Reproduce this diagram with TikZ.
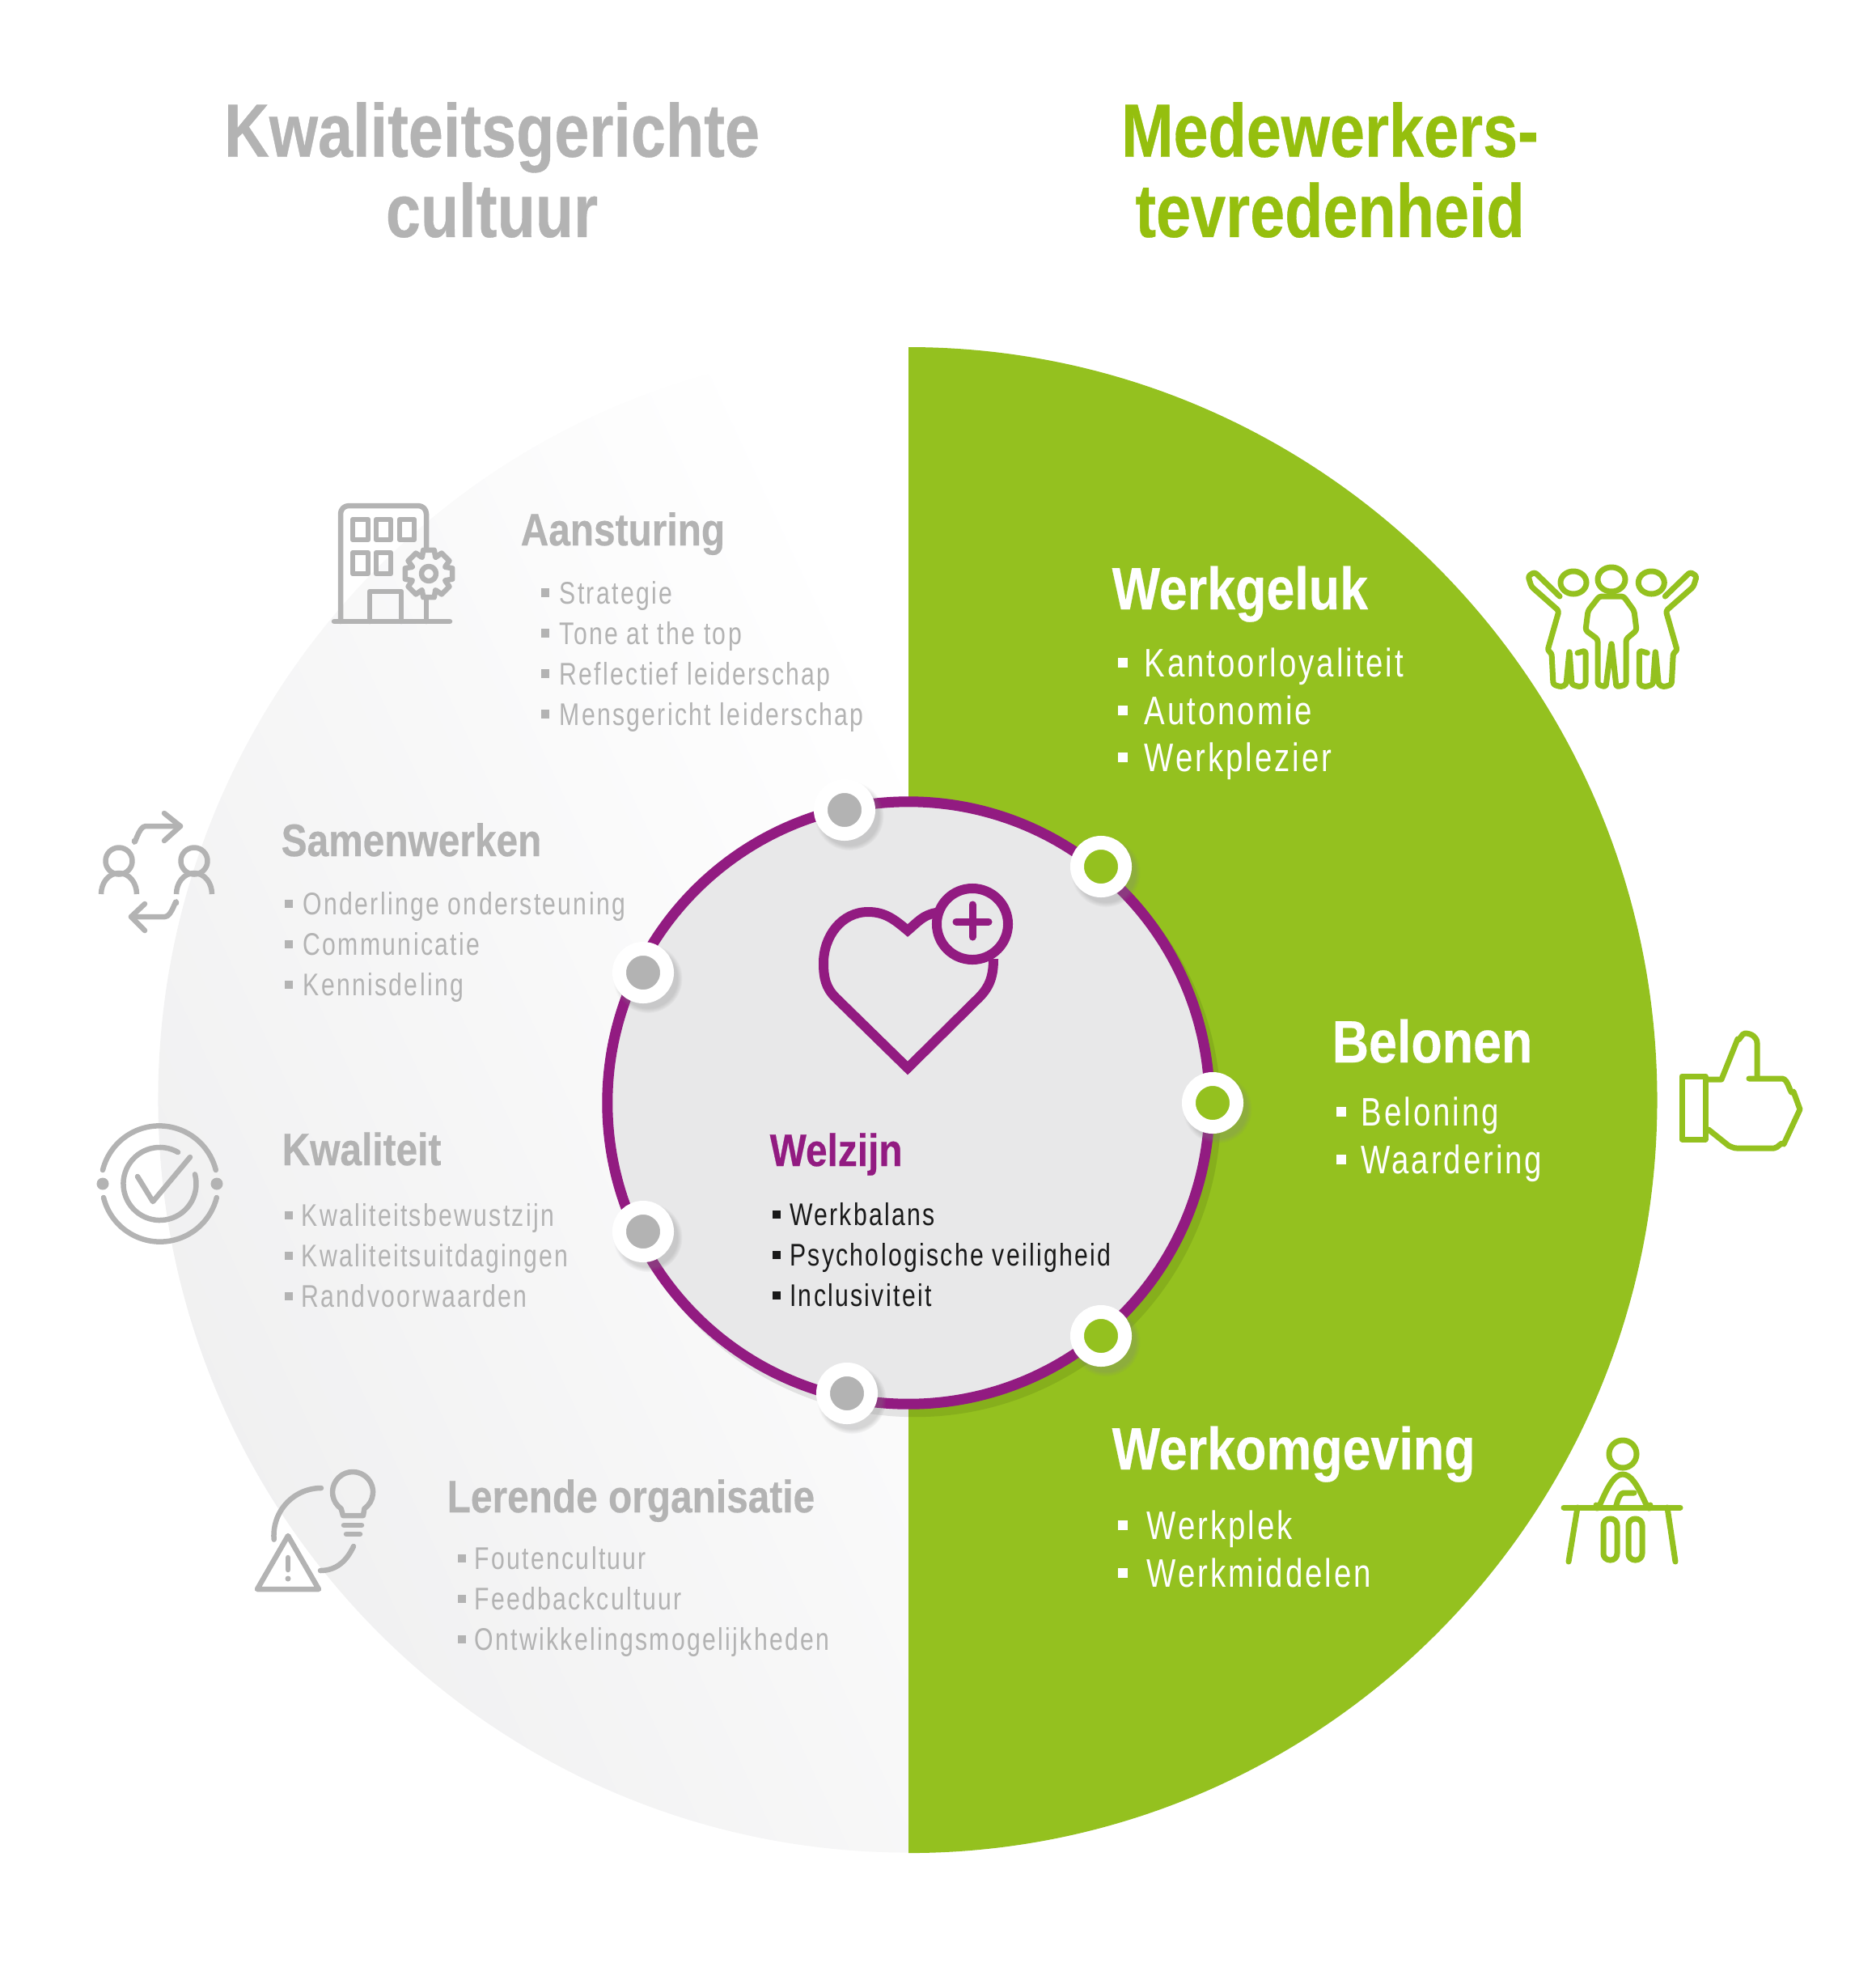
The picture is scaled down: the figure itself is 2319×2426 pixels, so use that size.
\documentclass[tikz,border=0pt]{standalone}
\usepackage{fontspec}
\setmainfont[FakeStretch=0.78, LetterSpace=6]{Liberation Sans}
\newfontfamily\headfont[FakeStretch=0.85, FakeBold=0.4]{Liberation Sans}
\newfontfamily\titlefont[FakeStretch=0.83, FakeBold=0.4]{Liberation Sans}
\usetikzlibrary{shadows}
\definecolor{mygreen}{HTML}{94C11F}
\definecolor{mytitle}{HTML}{95BF0E}
\definecolor{mygrey}{HTML}{B3B3B3}
\definecolor{mypurple}{HTML}{921B81}
\definecolor{mypale}{HTML}{E8E8E9}
\newcommand{\itemdot}[2]{\rule[.22em]{#1}{#1}\hspace{#2}}
\newcommand{\halfkid}{%
  \draw[greenicon] (1945,720) ellipse[x radius=.16cm, y radius=.14cm];
  \draw[greenicon, rounded corners=.03cm] (1928,737) -- (1897,707) -- (1889,712) -- (1893,725) -- (1927,755) -- (1913,804) -- (1918,807)
    -- (1920,846) -- (1930,849) -- (1936,846) -- (1940,804) -- (1943,846) -- (1953,849) -- (1960,846) -- (1960,804) -- (1950,807);}
\tikzset{
  titlelbl/.style={font=\fontsize{26.5}{28.2}\selectfont\titlefont\bfseries, align=center},
  headlbl/.style={anchor=base west, inner sep=0pt, font=\fontsize{16}{18}\selectfont\headfont\bfseries, text=mygrey},
  headwhite/.style={anchor=base west, inner sep=0pt, font=\fontsize{21}{23}\selectfont\headfont\bfseries, text=white},
  itemlbl/.style={anchor=base west, inner sep=0pt, font=\fontsize{11}{13}\selectfont, text=mygrey},
  itemwhite/.style={anchor=base west, inner sep=0pt, font=\fontsize{14}{16}\selectfont, text=white},
  greyicon/.style={draw=mygrey, line width=.065cm, line cap=round, line join=round},
  greenicon/.style={draw=mygreen, line width=.07cm, line cap=round, line join=round},
  dotmark/.style={circle, fill=#1, draw=white, line width=.17cm, minimum size=.59cm, inner sep=0pt,
    circular drop shadow={shadow xshift=.04cm, shadow yshift=-.05cm, shadow scale=1.45, opacity=.3}},
}
\begin{document}
\begin{tikzpicture}[x=.01cm, y=-.01cm]
  \useasboundingbox (0,0) rectangle (2319,2426);

  % half discs
  \begin{scope}
    \clip (0,0) rectangle (1123,2426);
    \clip (1123,1359) ellipse[x radius=9.27cm, y radius=9.3cm];
    \shade[left color=mypale!70, right color=white, shading angle=115] (190,420) rectangle (1123,2300);
  \end{scope}
  \fill[mygreen] (1123,429) arc[start angle=90, end angle=-90, x radius=9.25cm, y radius=9.3cm] -- cycle;

  % centre disc
  \fill[black, opacity=.09] (1131,1373) circle[radius=3.78cm];
  \draw[draw=mypurple, fill=mypale, line width=.13cm] (1123,1363) circle[radius=3.72cm];

  \node[dotmark=mygrey] (dotA) at (1044,1001) {};
  \node[dotmark=mygreen] (dotB) at (1361,1071) {};
  \node[dotmark=mygreen] (dotC) at (1499,1363) {};
  \node[dotmark=mygreen] (dotD) at (1361,1651) {};
  \node[dotmark=mygrey] (dotE) at (1047,1722) {};
  \node[dotmark=mygrey] (dotF) at (795,1522) {};
  \node[dotmark=mygrey] (dotG) at (795,1202) {};

  % titles
  \node[titlelbl, text=mygrey] (titleL) at (608,210) {Kwaliteitsgerichte\\cultuur};
  \node[titlelbl, text=mytitle] (titleR) at (1644,210) {Medewerkers-\\tevredenheid};

  % grey lists
  \node[headlbl] (aansturing) at (643,674) {Aansturing};
  \node[itemlbl] (strategie) at (668,746) {\itemdot{.1cm}{.13cm}Strategie};
  \node[itemlbl] (tone) at (668,796) {\itemdot{.1cm}{.13cm}Tone at the top};
  \node[itemlbl] (reflectief) at (668,846) {\itemdot{.1cm}{.13cm}Reflectief leiderschap};
  \node[itemlbl] (mensgericht) at (668,896) {\itemdot{.1cm}{.13cm}Mensgericht leiderschap};

  \node[headlbl] (samenwerken) at (347,1058) {Samenwerken};
  \node[itemlbl] (onderlinge) at (351,1130) {\itemdot{.1cm}{.13cm}Onderlinge ondersteuning};
  \node[itemlbl] (communicatie) at (351,1180) {\itemdot{.1cm}{.13cm}Communicatie};
  \node[itemlbl] (kennisdeling) at (351,1230) {\itemdot{.1cm}{.13cm}Kennisdeling};

  \node[headlbl] (kwaliteit) at (348,1440) {Kwaliteit};
  \node[itemlbl] (bewustzijn) at (351,1515) {\itemdot{.1cm}{.11cm}Kwaliteitsbewustzijn};
  \node[itemlbl] (uitdagingen) at (351,1565) {\itemdot{.1cm}{.11cm}Kwaliteitsuitdagingen};
  \node[itemlbl] (randvoorwaarden) at (351,1615) {\itemdot{.1cm}{.11cm}Randvoorwaarden};

  \node[headlbl] (lerende) at (552,1869) {Lerende organisatie};
  \node[itemlbl] (fouten) at (565,1939) {\itemdot{.1cm}{.11cm}Foutencultuur};
  \node[itemlbl] (feedback) at (565,1989) {\itemdot{.1cm}{.11cm}Feedbackcultuur};
  \node[itemlbl] (ontwikkeling) at (565,2039) {\itemdot{.1cm}{.11cm}Ontwikkelingsmogelijkheden};

  % centre list
  \node[headlbl, text=mypurple] (welzijn) at (951,1441) {Welzijn};
  \node[itemlbl, text=black!90] (werkbalans) at (954,1514) {\itemdot{.1cm}{.115cm}Werkbalans};
  \node[itemlbl, text=black!90] (psycho) at (954,1564) {\itemdot{.1cm}{.115cm}Psychologische veiligheid};
  \node[itemlbl, text=black!90] (inclusief) at (954,1614) {\itemdot{.1cm}{.115cm}Inclusiviteit};

  % green lists
  \node[headwhite] (werkgeluk) at (1374,753) {Werkgeluk};
  \node[itemwhite] (kantoor) at (1381,836) {\itemdot{.12cm}{.21cm}Kantoorloyaliteit};
  \node[itemwhite] (autonomie) at (1381,895) {\itemdot{.12cm}{.21cm}Autonomie};
  \node[itemwhite] (werkplezier) at (1381,953) {\itemdot{.12cm}{.21cm}Werkplezier};

  \node[headwhite] (belonen) at (1646,1313) {Belonen};
  \node[itemwhite] (beloning) at (1651,1391) {\itemdot{.12cm}{.19cm}Beloning};
  \node[itemwhite] (waardering) at (1651,1450) {\itemdot{.12cm}{.19cm}Waardering};

  \node[headwhite] (werkomgeving) at (1374,1816) {Werkomgeving};
  \node[itemwhite] (werkplek) at (1381,1902) {\itemdot{.12cm}{.24cm}Werkplek};
  \node[itemwhite] (werkmiddelen) at (1381,1961) {\itemdot{.12cm}{.24cm}Werkmiddelen};

  % building
  \begin{scope}[shift={(3,0)}]
  \draw[greyicon] (524,678) -- (524,635) to[out=90, in=0] (514,625) -- (428,625) to[out=180, in=90] (418,635) -- (418,768);
  \draw[greyicon] (524,738) -- (524,768);
  \draw[greyicon] (410,768) -- (553,768);
  \draw[greyicon] (433,642) rectangle (452,667) (462,642) rectangle (480,667) (491,642) rectangle (509,667);
  \draw[greyicon] (433,683) rectangle (452,709) (462,683) rectangle (480,709);
  \draw[greyicon] (454,768) -- (454,731) -- (493,731) -- (493,768);
  \draw[greyicon] (527,709) circle[radius=.09cm];
  \draw[greyicon, shift={(527,709)}] \foreach \a in {0,45,...,315} {(\a-22:22) -- (\a-13:30) -- (\a+13:30) -- (\a+22:22) -- (\a+23:22)};
  \end{scope}

  % swap
  \draw[greyicon] (147,1064) circle[radius=.165cm] (240,1064) circle[radius=.165cm];
  \draw[greyicon, line cap=butt] (125,1105) to[out=90, in=180] (147,1079) to[out=0, in=90] (169,1105);
  \draw[greyicon, line cap=butt] (218,1105) to[out=90, in=180] (240,1079) to[out=0, in=90] (262,1105);
  \draw[greyicon] (166,1039) to[out=-90, in=180] (180,1021) -- (223,1021);
  \draw[greyicon] (203,1005) -- (223,1021) -- (203,1039);
  \draw[greyicon] (218,1116) to[out=90, in=0] (204,1133) -- (162,1133);
  \draw[greyicon] (179,1117) -- (162,1133) -- (179,1150);

  % check
  \draw[greyicon] (127,1446) arc[start angle=166, end angle=14, radius=.72cm];
  \draw[greyicon] (128,1480) arc[start angle=194, end angle=346, radius=.72cm];
  \fill[mygrey] (127,1463) circle[radius=.075cm] (268,1463) circle[radius=.075cm];
  \draw[greyicon] (220,1424) arc[start angle=60, end angle=375, radius=.45cm];
  \draw[greyicon] (170,1454) -- (189,1485) -- (235,1430);

  % bulb
  \draw[greyicon] (424,1873) -- (421.7,1864.5) arc[start angle=235, end angle=-55, radius=.25cm] -- (449,1873) -- cycle;
  \draw[greyicon] (425,1885) -- (447,1885) (428,1896) -- (445,1896);
  \draw[greyicon] (397,1839) arc[start angle=90, end angle=185, radius=.585cm];
  \draw[greyicon] (396,1941) to[out=0, in=-115] (437,1911);
  \draw[greyicon] (356,1898) -- (318,1964) -- (394,1964) -- cycle;
  \draw[greyicon] (356,1925) -- (356,1940);
  \fill[mygrey] (356,1951) circle[radius=.035cm];

  % people
  \draw[greenicon] (1992,716) ellipse[x radius=.17cm, y radius=.15cm];
  \draw[greenicon, rounded corners=.03cm] (1977,737) -- (1963,755) -- (1960,779) -- (1975,790) -- (1975,846) -- (1985,849) -- (1992,794)
    -- (1998,849) -- (2010,846) -- (2010,790) -- (2023,779) -- (2020,755) -- (2007,737) -- cycle;
  \halfkid
  \begin{scope}[xshift=39.84cm, xscale=-1]
    \halfkid
  \end{scope}

  % thumb
  \draw[greenicon] (2079,1330) rectangle (2108,1408);
  \draw[greenicon] (2110,1334) -- (2128,1334) -- (2148,1284) to[out=-60, in=180] (2157,1277) to[out=0, in=90] (2172,1289) -- (2172,1332);
  \draw[greenicon] (2162,1333) -- (2203,1333) to[out=0, in=-120] (2217,1349) -- (2225,1371) -- (2205,1414) to[out=120, in=0] (2193,1419)
    -- (2147,1419) to[out=180, in=-20] (2137,1416) -- (2112,1396);

  % desk
  \draw[greenicon] (2006,1797) circle[radius=.17cm];
  \draw[greenicon] (1973,1860) to[out=-85, in=180] (2006,1822) to[out=0, in=-95] (2040,1860);
  \draw[greenicon] (1933,1863) -- (2077,1863);
  \draw[greenicon] (1950,1863) -- (1939,1930) (2061,1863) -- (2071,1930);
  \draw[greenicon, rounded corners=.08cm] (1982,1877) rectangle (1999,1928);
  \draw[greenicon, rounded corners=.08cm] (2013,1877) rectangle (2030,1928);
  \draw[greenicon] (2020,1845) -- (2007,1845) to[out=180, in=-90] (1997,1862);

  % heart
  \draw[draw=mypurple, line width=.12cm, line join=miter]
    (1157,1128) to[out=190, in=40] (1122,1150) to[out=140, in=0] (1073,1127) to[out=180, in=90] (1018,1190)
    to[out=-90, in=135] (1033,1233) -- (1122,1320) -- (1210,1233) to[out=45, in=-90] (1228,1185);
  \draw[draw=mypurple, line width=.12cm] (1202,1142) circle[radius=.44cm];
  \draw[draw=mypurple, line width=.09cm, line cap=round] (1182,1139) -- (1222,1139) (1202,1118) -- (1202,1158);
\end{tikzpicture}
\end{document}
